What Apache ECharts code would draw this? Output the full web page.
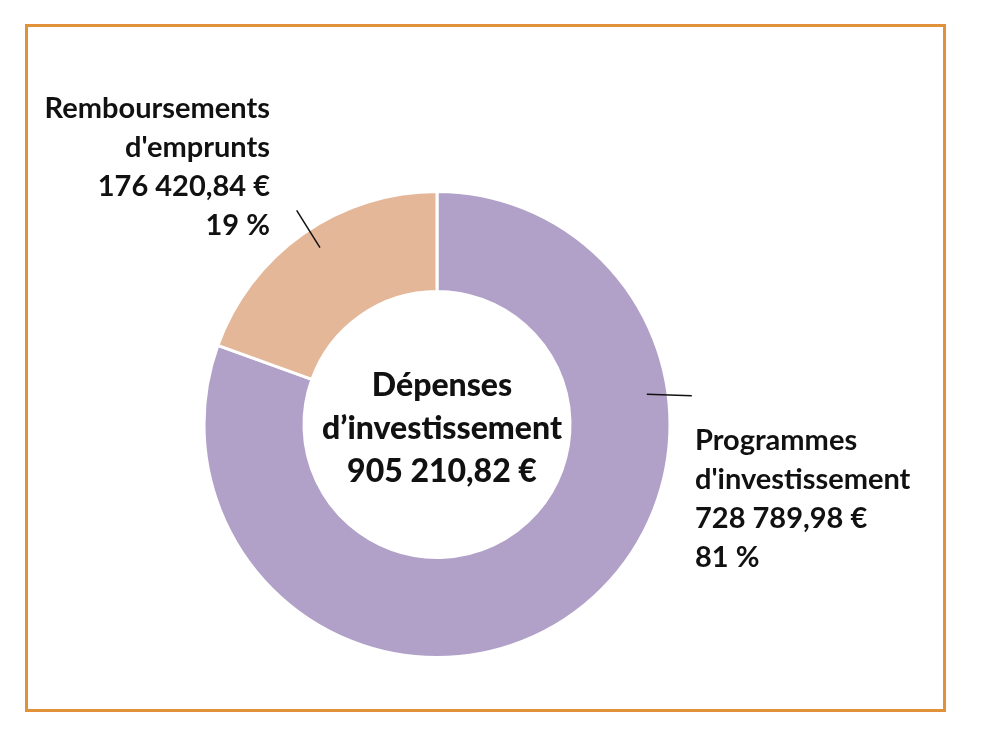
<!DOCTYPE html>
<html>
<head>
<meta charset="utf-8">
<script src="https://cdn.jsdelivr.net/npm/echarts@6/dist/echarts.min.js"></script>
<style>
  html, body { margin: 0; padding: 0; background: #fff; }
  #chart { width: 982px; height: 740px; }
</style>
</head>
<body>
<div id="chart"></div>
<script>
// données
const categories = ["Programmes\nd'investissement", "Remboursements\nd'emprunts"];
const values = [728789.98, 176420.84];
const colors = ['#b1a1c9', '#e4b799'];
const centerTitle = 'Dépenses\nd’investissement';

// mise en page
const CX = 437, CY = 424.5, R_IN = 133, R_OUT = 233;
const LABEL_POS = [
  {x: 695, y: 421, align: 'left'},
  {x: 270, y: 89, align: 'right'}
];
// traits : départ dans l'anneau (angle, rayon), puis direction et longueur
const GUIDES = [
  {angle: 8.2, r: 212, dir: -2, len: 45},
  {angle: 123.5, r: 212, dir: 122, len: 44}
];

const total = values.reduce((a, b) => a + b, 0);

function euro(v) {
  const parts = v.toFixed(2).split('.');
  const ent = parts[0].replace(/\B(?=(\d{3})+(?!\d))/g, ' ');
  return ent + ',' + parts[1] + ' €';
}

const guideLines = GUIDES.map(g => {
  const a = g.angle * Math.PI / 180;
  const d = g.dir * Math.PI / 180;
  const x1 = CX + g.r * Math.cos(a), y1 = CY - g.r * Math.sin(a);
  return {
    type: 'line',
    silent: true,
    z: 10,
    shape: {x1: x1, y1: y1, x2: x1 + g.len * Math.cos(d), y2: y1 - g.len * Math.sin(d)},
    style: {stroke: '#111', lineWidth: 1.5}
  };
});

const chart = echarts.init(document.getElementById('chart'));

chart.setOption({
  animation: false,
  backgroundColor: '#fff',
  graphic: [{
    type: 'rect',
    shape: {x: 26.5, y: 25.5, width: 918, height: 685},
    style: {fill: 'none', stroke: '#e0913a', lineWidth: 3},
    silent: true
  }].concat(guideLines),
  title: {
    text: centerTitle + '\n' + euro(total),
    left: CX,
    top: 359,
    textAlign: 'center',
    textStyle: {
      fontFamily: 'Lato',
      fontWeight: 900,
      fontSize: 32,
      lineHeight: 43,
      color: '#111'
    }
  },
  series: [{
    type: 'pie',
    center: [CX, CY],
    radius: [R_IN, R_OUT],
    startAngle: 90,
    clockwise: true,
    avoidLabelOverlap: false,
    silent: true,
    data: categories.map((c, i) => ({
      name: c,
      value: values[i],
      itemStyle: {color: colors[i]}
    })),
    itemStyle: {borderColor: '#fff', borderWidth: 3},
    label: {
      show: true,
      position: 'outside',
      formatter: p => p.name + '\n' + euro(p.value) + '\n' + Math.round(p.value / total * 100) + ' %',
      fontFamily: 'Lato',
      fontWeight: 'bold',
      fontSize: 29,
      lineHeight: 39,
      color: '#111'
    },
    labelLine: {show: false},
    labelLayout: function (params) {
      const i = params.dataIndex;
      return {
        x: LABEL_POS[i].x,
        y: LABEL_POS[i].y,
        align: LABEL_POS[i].align,
        verticalAlign: 'top'
      };
    }
  }]
});
</script>
</body>
</html>
